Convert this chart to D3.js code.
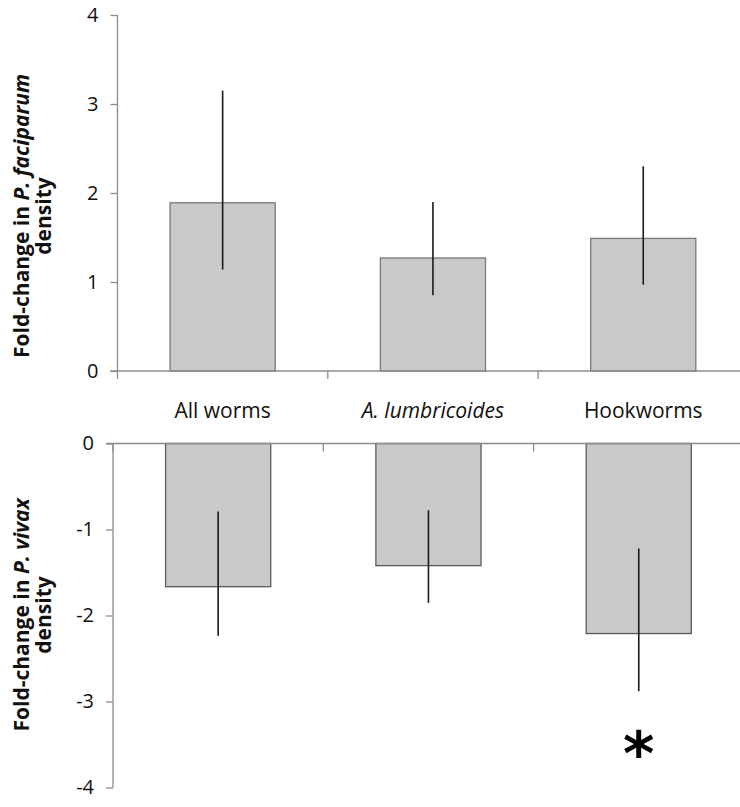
<!DOCTYPE html>
<html>
<head>
<meta charset="utf-8">
<script src="https://cdn.jsdelivr.net/npm/d3@7"></script>
<style>
  body { margin: 0; background: #fff; }
  svg { display: block; }
  text { font-family: "Open Sans", Lato, sans-serif; }
</style>
</head>
<body>
<div id="chart"></div>
<script>
var categories = ["All worms", "A. lumbricoides", "Hookworms"];
var italicCats = [false, true, false];

// P. falciparum panel
var topValues = [1.89, 1.27, 1.49];
var topLow = [1.14, 0.85, 0.97];
var topHigh = [3.15, 1.90, 2.30];
var topTicks = [0, 1, 2, 3, 4];

// P. vivax panel
var botValues = [-1.665, -1.42, -2.21];
var botLow = [-2.235, -1.853, -2.88];
var botHigh = [-0.79, -0.776, -1.22];
var botTicks = [0, -1, -2, -3, -4];
var signif = [false, false, true];

window.onload = function(){
	var w = 740, h = 807;
	var axisColor = "#8c8c8c";

	var svg = d3.select("#chart")
		.append("svg")
		.attr("width", w)
		.attr("height", h);

	function panel(opt){
		var x = d3.scaleBand()
			.domain(categories)
			.range([opt.x0, opt.x0 + 3 * 210.3])
			.paddingInner(0.5)
			.paddingOuter(0.25);
		var y = d3.scaleLinear().domain(opt.domain).range(opt.yrange);
		var step = x.step();
		var g = svg.append("g");

		// bars
		g.selectAll("rect.bar")
			.data(opt.values)
			.enter()
			.append("rect")
			.attr("class", "bar")
			.attr("x", function(d, i){ return x(categories[i]); })
			.attr("y", function(d){ return Math.min(y(d), y(0)); })
			.attr("width", x.bandwidth())
			.attr("height", function(d){ return Math.abs(y(d) - y(0)); })
			.attr("fill", "#c9c9c9")
			.attr("stroke", opt.barStroke)
			.attr("stroke-width", 1.3);

		// error bars
		g.selectAll("line.err")
			.data(opt.values)
			.enter()
			.append("line")
			.attr("class", "err")
			.attr("x1", function(d, i){ return x(categories[i]) + x.bandwidth() / 2; })
			.attr("x2", function(d, i){ return x(categories[i]) + x.bandwidth() / 2; })
			.attr("y1", function(d, i){ return y(opt.low[i]); })
			.attr("y2", function(d, i){ return y(opt.high[i]); })
			.attr("stroke", "#1a1a1a")
			.attr("stroke-width", 1.6);

		// y axis
		var yAxis = d3.axisLeft(y)
			.tickValues(opt.ticks)
			.tickSize(7)
			.tickPadding(opt.pad)
			.tickFormat(function(d){ return String(d); });
		var ya = g.append("g")
			.attr("transform", "translate(" + opt.x0 + ",0)")
			.call(yAxis);
		ya.select(".domain").remove();
		ya.selectAll(".tick line").attr("stroke", axisColor).attr("stroke-width", 1.3);
		ya.selectAll(".tick text")
			.attr("font-size", 20)
			.attr("fill", "#111")
			.style("font-family", "'Open Sans', Lato, sans-serif");
		g.append("line")
			.attr("x1", opt.x0).attr("x2", opt.x0)
			.attr("y1", y(opt.domain[1]))
			.attr("y2", y(opt.domain[0]))
			.attr("stroke", axisColor)
			.attr("stroke-width", 1.3);
		g.append("line")
			.attr("x1", opt.x0).attr("x2", opt.x0)
			.attr("y1", y(0))
			.attr("y2", y(0) + 8)
			.attr("stroke", axisColor)
			.attr("stroke-width", 1.3);

		// category axis at zero
		g.append("line")
			.attr("x1", opt.x0 - 7).attr("x2", w)
			.attr("y1", y(0)).attr("y2", y(0))
			.attr("stroke", axisColor)
			.attr("stroke-width", 1.3);
		g.selectAll("line.ctick")
			.data(categories.slice(1))
			.enter()
			.append("line")
			.attr("class", "ctick")
			.attr("x1", function(d){ return x(d) - step * 0.25; })
			.attr("x2", function(d){ return x(d) - step * 0.25; })
			.attr("y1", y(0))
			.attr("y2", y(0) + 8)
			.attr("stroke", axisColor)
			.attr("stroke-width", 1.3);

		// axis title
		var title = g.append("text")
			.attr("transform", "translate(29," + opt.titleY + ") rotate(-90)")
			.attr("text-anchor", "middle")
			.attr("font-size", 21)
			.attr("font-weight", "bold")
			.attr("fill", "#111");
		var l1 = title.append("tspan").attr("x", 0).attr("y", 0);
		l1.append("tspan").text("Fold-change in ");
		l1.append("tspan").attr("font-style", "italic").text(opt.species);
		title.append("tspan").attr("x", 0).attr("y", 22).text("density");

		return {x: x, y: y, g: g};
	}

	var top = panel({
		x0: 117.5, domain: [0, 4], yrange: [371, 15],
		values: topValues, low: topLow, high: topHigh, ticks: topTicks,
		pad: 12, barStroke: "#7a7a7a", titleY: 216, species: "P. faciparum"
	});

	// category labels
	top.g.selectAll("text.cat")
		.data(categories)
		.enter()
		.append("text")
		.attr("class", "cat")
		.attr("x", function(d){ return top.x(d) + top.x.bandwidth() / 2; })
		.attr("y", 418)
		.attr("text-anchor", "middle")
		.attr("font-size", 21)
		.attr("fill", "#111")
		.attr("font-style", function(d, i){ return italicCats[i] ? "italic" : "normal"; })
		.text(function(d){ return d; });

	var bot = panel({
		x0: 113, domain: [-4, 0], yrange: [787.5, 443.5],
		values: botValues, low: botLow, high: botHigh, ticks: botTicks,
		pad: 12, barStroke: "#5a5a5a", titleY: 615, species: "P. vivax"
	});

	// significance marker
	bot.g.selectAll("text.sig")
		.data(categories.filter(function(d, i){ return signif[i]; }))
		.enter()
		.append("text")
		.attr("class", "sig")
		.attr("x", function(d){ return bot.x(d) + bot.x.bandwidth() / 2; })
		.attr("y", 775)
		.attr("text-anchor", "middle")
		.attr("font-size", 60)
		.attr("font-weight", "bold")
		.style("font-family", "'DejaVu Sans', sans-serif")
		.attr("fill", "#000")
		.text("*");
}
</script>
</body>
</html>
